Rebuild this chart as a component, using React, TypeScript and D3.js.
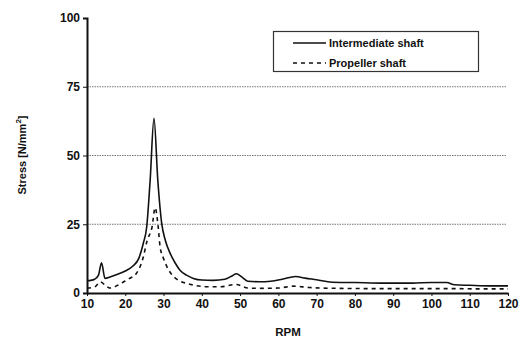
import { useEffect, useRef } from 'react';
import * as d3 from 'd3';

// Intermediate shaft (solid line)
const interRpm = [10, 11, 12, 13, 13.8, 14.7, 16, 18, 20, 22, 23.5, 24.7, 25.6, 26.5, 27.5, 28.5, 29.5, 30.5, 31.7, 33, 34.3, 36, 37.8, 40, 43, 46, 48, 49, 50.5, 52, 55, 58, 61, 64.5, 67, 70, 74, 80, 87, 95, 100, 104, 106, 110, 115, 120];
const interStress = [4.5, 4.6, 5, 6.5, 11, 5.3, 5.8, 6.8, 8, 9.8, 12.5, 18, 24, 41, 63.5, 41, 25.5, 19, 14.5, 11, 8.3, 6.5, 5.3, 4.7, 4.6, 5, 6.3, 7, 5.8, 4.3, 4.1, 4.3, 5, 6, 5.4, 4.8, 3.9, 3.8, 3.6, 3.6, 3.8, 3.8, 3.0, 2.8, 2.6, 2.6];

// Propeller shaft (dashed line)
const propRpm = [10, 12, 13.5, 15, 16, 18, 19.5, 21, 23, 24.7, 25.7, 27, 27.8, 28.6, 29.1, 30, 30.9, 32, 33.9, 36, 37.8, 41, 45, 49, 52, 56, 60, 64, 68, 75, 85, 95, 105, 112, 120];
const propStress = [1.8, 2.2, 4, 2.5, 1.8, 2.8, 4, 5.2, 7.3, 13, 19, 24, 31, 24, 16.8, 12.5, 9.5, 7, 4.6, 3.5, 2.9, 2.3, 2.3, 3.1, 1.8, 1.7, 1.8, 2.5, 2, 1.7, 1.6, 1.6, 1.6, 1.5, 1.5];

const xTicks = [10, 20, 30, 40, 50, 60, 70, 80, 90, 100, 110, 120];
const yTicks = [0, 25, 50, 75, 100];
const gridValues = [25, 50, 75];
const seriesNames = ['Intermediate shaft', 'Propeller shaft'];

const W = 523;
const H = 342;
const FONT = '"Liberation Sans", Arial, sans-serif';

const App = () => {
  const ref = useRef<SVGSVGElement>(null);

  useEffect(() => {
    if (!ref.current) return;
    const svg = d3.select(ref.current);
    svg.selectAll('*').remove();

    const x = d3.scaleLinear().domain([10, 120]).range([87, 508]);
    const y = d3.scaleLinear().domain([0, 100]).range([293, 18]);

    svg.append('rect').attr('width', W).attr('height', H).attr('fill', '#fff');

    // gridlines
    svg.append('g')
      .selectAll('line')
      .data(gridValues)
      .enter()
      .append('line')
      .attr('x1', x(10))
      .attr('x2', x(120) - 2)
      .attr('y1', d => y(d))
      .attr('y2', d => y(d))
      .attr('stroke', '#777')
      .attr('stroke-width', 1)
      .attr('stroke-dasharray', '1.5,1');

    // axes
    const yAxis = d3.axisLeft(y).tickValues(yTicks).tickSize(4).tickFormat(d3.format('d'));
    const gy = svg.append('g').attr('transform', `translate(${x(10)},0)`).call(yAxis);
    gy.select('.domain').attr('stroke', '#111').attr('stroke-width', 2);
    gy.selectAll('.tick line').attr('stroke', '#111');
    gy.selectAll('.tick text')
      .attr('font-family', FONT)
      .attr('font-size', 12)
      .attr('font-weight', 'bold')
      .attr('fill', '#111')
      .attr('x', -7);

    const xAxis = d3.axisBottom(x).tickValues(xTicks).tickSize(3).tickSizeOuter(0);
    const gx = svg.append('g').attr('transform', `translate(0,${y(0)})`).call(xAxis);
    gx.select('.domain').attr('stroke', '#111').attr('stroke-width', 2);
    gx.selectAll('.tick line').attr('stroke', '#111');
    gx.selectAll('.tick text')
      .attr('font-family', FONT)
      .attr('font-size', 12)
      .attr('font-weight', 'bold')
      .attr('fill', '#111')
      .attr('y', 6);

    // lines
    const line = d3.line<[number, number]>()
      .x(d => x(d[0]))
      .y(d => y(d[1]))
      .curve(d3.curveMonotoneX);

    const interData = interRpm.map((r, i) => [r, interStress[i]] as [number, number]);
    const propData = propRpm.map((r, i) => [r, propStress[i]] as [number, number]);

    svg.append('path')
      .attr('d', line(propData))
      .attr('fill', 'none')
      .attr('stroke', '#111')
      .attr('stroke-width', 1.6)
      .attr('stroke-dasharray', '4,4');

    svg.append('path')
      .attr('d', line(interData))
      .attr('fill', 'none')
      .attr('stroke', '#111')
      .attr('stroke-width', 1.6);

    // legend
    const lg = svg.append('g');
    lg.append('rect')
      .attr('x', 273.5)
      .attr('y', 31.5)
      .attr('width', 205)
      .attr('height', 40)
      .attr('fill', '#fff')
      .attr('stroke', '#333')
      .attr('stroke-width', 1.2);
    seriesNames.forEach((name, i) => {
      const ly = 43 + i * 20;
      lg.append('line')
        .attr('x1', 293)
        .attr('x2', 326)
        .attr('y1', ly)
        .attr('y2', ly)
        .attr('stroke', '#111')
        .attr('stroke-width', 1.6)
        .attr('stroke-dasharray', i === 0 ? null : '4,4');
      lg.append('text')
        .attr('x', 329)
        .attr('y', ly + 4)
        .attr('font-family', FONT)
        .attr('font-size', 11)
        .attr('font-weight', 'bold')
        .attr('fill', '#111')
        .text(name);
    });

    // axis titles
    svg.append('text')
      .attr('x', 288)
      .attr('y', 336)
      .attr('text-anchor', 'middle')
      .attr('font-family', FONT)
      .attr('font-size', 11.5)
      .attr('font-weight', 'bold')
      .attr('fill', '#111')
      .text('RPM');

    const yt = svg.append('text')
      .attr('transform', 'translate(26,155) rotate(-90)')
      .attr('text-anchor', 'middle')
      .attr('font-family', FONT)
      .attr('font-size', 11)
      .attr('font-weight', 'bold')
      .attr('fill', '#111');
    yt.append('tspan').text('Stress [N/mm');
    yt.append('tspan').attr('dy', -5).attr('font-size', 8).text('2');
    yt.append('tspan').attr('dy', 5).text(']');
  }, []);

  return (
    <div style={{ position: 'fixed', left: 0, top: 0 }}>
      <svg ref={ref} width={W} height={H} style={{ display: 'block' }} />
    </div>
  );
};

export default App;
